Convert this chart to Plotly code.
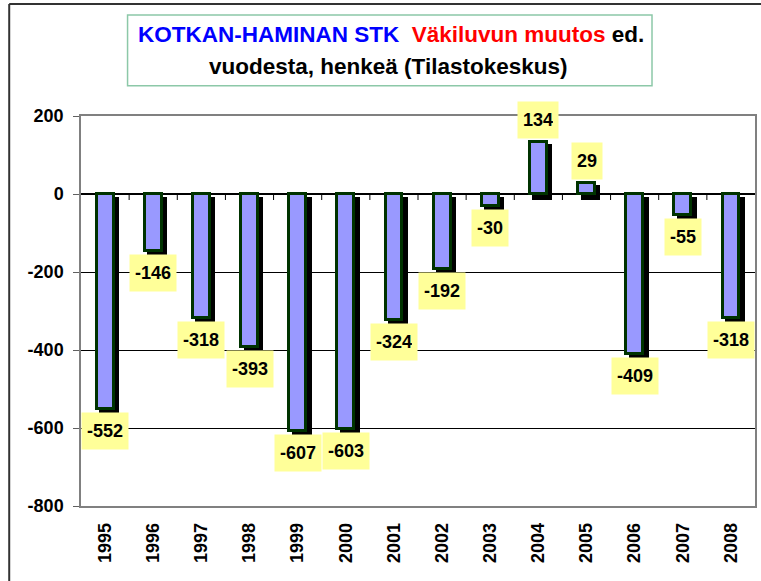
import plotly.graph_objects as go

years = ["1995", "1996", "1997", "1998", "1999", "2000", "2001",
         "2002", "2003", "2004", "2005", "2006", "2007", "2008"]
change = [-552, -146, -318, -393, -607, -603, -324,
          -192, -30, 134, 29, -409, -55, -318]
y_ticks = [-800, -600, -400, -200, 0, 200]

FONT = "Liberation Sans, Arial, sans-serif"

# plot area geometry (px) used for layout helpers
W, H = 761, 581
ML, MR, MT, MB = 81, 4, 116, 75
PW, PH = W - ML - MR, H - MT - MB
Y0, Y1 = -800, 200
upx = (Y1 - Y0) / PH          # data units per pixel (y)
cpx = 1 / (PW / len(years))   # category units per pixel (x)

def px_x(p):
    return (p - ML) / PW

def px_y(p):
    return (H - MB - p) / PH

fill_w = 0.35
outer_w = fill_w + 3 * cpx
sh_dx, sh_dy = 4 * cpx, 4 * upx
half_border = 1.5 * upx

sh_base = [(-sh_dy + half_border) if v < 0 else (-sh_dy - half_border) for v in change]
sh_len = [(v - 2 * half_border) if v < 0 else (v + 2 * half_border) for v in change]

fig = go.Figure()
fig.add_trace(go.Bar(
    x=years, y=sh_len, base=sh_base,
    width=outer_w, offset=-outer_w / 2 + sh_dx,
    marker=dict(color="#000000", line=dict(width=0)),
    hoverinfo="skip", showlegend=False,
))
fig.add_trace(go.Bar(
    x=years, y=change,
    width=fill_w, offset=-fill_w / 2,
    marker=dict(color="#9999FF", line=dict(color="#003300", width=3)),
    showlegend=False,
))

annotations = []
for i, v in enumerate(change):
    neg = v < 0
    annotations.append(dict(
        x=i, y=v, xref="x", yref="y", showarrow=False,
        text="<b>%d</b>" % v,
        font=dict(family=FONT, size=18, color="black"),
        bgcolor="#FFFF99", borderpad=5, height=26,
        valign="middle",
        xanchor="center",
        yanchor="top" if neg else "bottom",
        yshift=-3 if neg else 3,
    ))

# title
annotations.append(dict(
    xref="paper", yref="paper", x=px_x(391.5), y=px_y(34), showarrow=False,
    xanchor="center", yanchor="middle",
    text="<b><span style='color:#0000FF'>KOTKAN-HAMINAN STK</span>  "
         "<span style='color:#FF0000'>Väkiluvun muutos</span> ed.</b>",
    font=dict(family=FONT, size=22.5, color="black"),
))
annotations.append(dict(
    xref="paper", yref="paper", x=px_x(389), y=px_y(66), showarrow=False,
    xanchor="center", yanchor="middle",
    text="<b>vuodesta, henkeä (Tilastokeskus)</b>",
    font=dict(family=FONT, size=22.5, color="black"),
))

shapes = [
    # title box
    dict(type="rect", xref="paper", yref="paper",
         x0=px_x(127.7), x1=px_x(653.7), y0=px_y(85.7), y1=px_y(15),
         line=dict(color="#8CC8A8", width=1.5), fillcolor="rgba(0,0,0,0)", layer="below"),
    # outer frame
    dict(type="line", xref="paper", yref="paper",
         x0=px_x(9), x1=px_x(9), y0=px_y(H + 5), y1=px_y(4),
         line=dict(color="#333333", width=2)),
    dict(type="line", xref="paper", yref="paper",
         x0=px_x(9), x1=px_x(W + 5), y0=px_y(4), y1=px_y(4),
         line=dict(color="#333333", width=2)),
]
# tick marks on the zero line between categories
for i in range(1, len(years)):
    shapes.append(dict(type="line", xref="x", yref="y",
                       x0=i - 0.5, x1=i - 0.5, y0=0, y1=-6 * upx,
                       line=dict(color="black", width=1), layer="below"))

fig.update_layout(
    width=W, height=H,
    margin=dict(l=ML, r=MR, t=MT, b=MB, pad=0),
    paper_bgcolor="white", plot_bgcolor="white",
    barmode="overlay", bargap=0,
    showlegend=False,
    annotations=annotations, shapes=shapes,
    font=dict(family=FONT, color="black"),
)
fig.update_xaxes(
    type="category", categoryorder="array", categoryarray=years,
    tickangle=-90, ticks="outside", ticklen=8, tickcolor="rgba(0,0,0,0)",
    tickfont=dict(family=FONT, size=18, color="black", weight="bold"),
    showline=True, linecolor="#808080", linewidth=1.5, mirror=True,
    showgrid=False, zeroline=False, range=[-0.5, len(years) - 0.5],
)
fig.update_yaxes(
    range=[Y0, Y1], tickvals=y_ticks, ticktext=[str(t) for t in y_ticks],
    ticks="outside", ticklen=6,
    tickcolor="#606060", ticklabelstandoff=6,
    tickfont=dict(family=FONT, size=18, color="black", weight="bold"),
    showline=True, linecolor="#808080", linewidth=1.5, mirror=True,
    showgrid=True, gridcolor="black", gridwidth=1,
    zeroline=True, zerolinecolor="black", zerolinewidth=1.5,
)

fig.write_html("out.html", config={"displayModeBar": False},
               post_script="document.body.style.margin='0px';")
